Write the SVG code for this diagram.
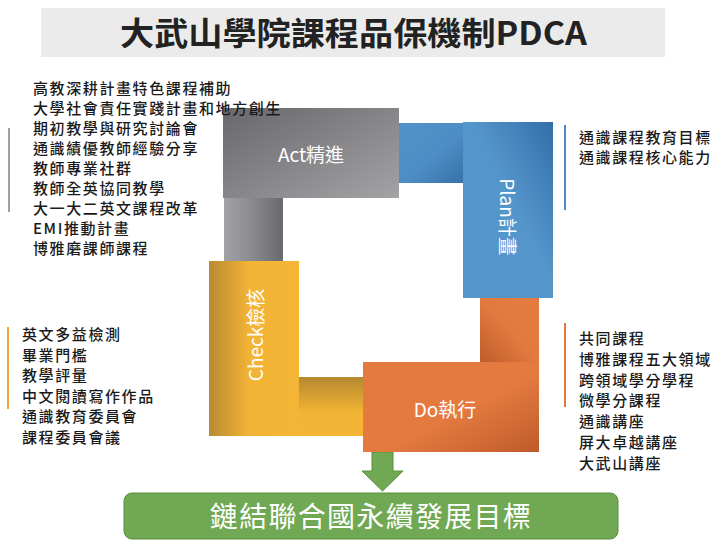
<svg xmlns="http://www.w3.org/2000/svg" width="714" height="540" viewBox="0 0 714 540">
  <style>
    .t { font-family: "Noto Sans CJK TC", "Noto Sans", sans-serif; }
    .list { font-family: "Noto Sans CJK TC", sans-serif; font-size: 15px; font-weight: 500; fill: #1a1a1a; letter-spacing: 1.6px; }
    .lbl { font-family: "Noto Sans CJK TC", "Noto Sans", sans-serif; font-size: 19px; fill: #ffffff; text-anchor: middle; dominant-baseline: central; }
  </style>
  <defs>
    <linearGradient id="gAct" x1="0" y1="0" x2="1" y2="1">
      <stop offset="0" stop-color="#68686c"/>
      <stop offset="1" stop-color="#a3a3a6"/>
    </linearGradient>
    <linearGradient id="gGrayC" x1="0" y1="0" x2="1" y2="0">
      <stop offset="0" stop-color="#a2a2a5"/>
      <stop offset="0.4" stop-color="#8f8f93"/>
      <stop offset="1" stop-color="#69696d"/>
    </linearGradient>
    <linearGradient id="gBlueC" x1="0" y1="0" x2="1" y2="1">
      <stop offset="0" stop-color="#5193c9"/>
      <stop offset="0.55" stop-color="#4d8dc5"/>
      <stop offset="1" stop-color="#3670a8"/>
    </linearGradient>
    <linearGradient id="gPlan" x1="1" y1="0" x2="0" y2="1">
      <stop offset="0" stop-color="#336fab"/>
      <stop offset="0.45" stop-color="#5495ca"/>
      <stop offset="1" stop-color="#5596ca"/>
    </linearGradient>
    <linearGradient id="gOrangeC" x1="0" y1="1" x2="1" y2="0">
      <stop offset="0" stop-color="#c05c2a"/>
      <stop offset="0.5" stop-color="#e27a40"/>
      <stop offset="1" stop-color="#e57b41"/>
    </linearGradient>
    <linearGradient id="gDo" x1="0" y1="0" x2="1" y2="1">
      <stop offset="0" stop-color="#e57a40"/>
      <stop offset="0.55" stop-color="#e47a40"/>
      <stop offset="1" stop-color="#bf5b29"/>
    </linearGradient>
    <linearGradient id="gCheck" x1="0" y1="0" x2="1" y2="0">
      <stop offset="0" stop-color="#b88b32"/>
      <stop offset="0.45" stop-color="#f3b335"/>
      <stop offset="1" stop-color="#f4b436"/>
    </linearGradient>
    <linearGradient id="gYellowC" x1="0" y1="0" x2="0" y2="1">
      <stop offset="0" stop-color="#b5892f"/>
      <stop offset="0.6" stop-color="#f3b335"/>
      <stop offset="1" stop-color="#f4b436"/>
    </linearGradient>
  </defs>

  <rect width="714" height="540" fill="#ffffff"/>

  <g id="title">
    <rect x="41" y="8" width="624" height="49" fill="#ebebeb"/>
    <text class="t" x="120" y="45" font-size="32" font-weight="bold" fill="#222222" textLength="467" lengthAdjust="spacingAndGlyphs">大武山學院課程品保機制PDCA</text>
  </g>

  <g id="connectors">
    <rect x="224" y="196" width="59" height="66" fill="url(#gGrayC)"/>
    <rect x="398" y="123" width="66" height="60" fill="url(#gBlueC)"/>
    <rect x="480" y="297" width="59" height="66" fill="url(#gOrangeC)"/>
    <rect x="298" y="377" width="66" height="59" fill="url(#gYellowC)"/>
    <path d="M372,452 H393 V471 H403 L382.5,491 L362,471 H372 Z" fill="#70a853" stroke="#5b8f3e" stroke-width="1"/>
  </g>

  <g id="act">
    <rect x="223" y="108" width="176" height="90" fill="url(#gAct)"/>
    <text class="lbl" x="311" y="153">Act精進</text>
  </g>

  <g id="plan">
    <rect x="463" y="122" width="90" height="176" fill="url(#gPlan)"/>
    <text class="lbl" x="508" y="217" transform="rotate(90 508 217)">Plan計畫</text>
  </g>

  <g id="check">
    <rect x="209" y="261" width="90" height="175" fill="url(#gCheck)"/>
    <text class="lbl" x="254" y="335" transform="rotate(-90 254 335)">Check檢核</text>
  </g>

  <g id="do">
    <rect x="363" y="362" width="176" height="90" fill="url(#gDo)"/>
    <text class="lbl" x="445" y="408">Do執行</text>
  </g>

  <g id="goal">
    <rect x="124" y="493" width="494" height="46" rx="8" ry="8" fill="#70a853" stroke="#5b8f3e" stroke-width="1"/>
    <text class="t" x="371" y="527" font-size="28" fill="#ffffff" text-anchor="middle" letter-spacing="1.3">鏈結聯合國永續發展目標</text>
  </g>

  <g id="act-list">
    <rect x="8" y="128" width="2" height="84" fill="#a0a0a0"/>
    <text class="list" x="33" y="94">高教深耕計畫特色課程補助</text>
    <text class="list" x="33" y="114">大學社會責任實踐計畫和地方創生</text>
    <text class="list" x="33" y="134">期初教學與研究討論會</text>
    <text class="list" x="33" y="154">通識績優教師經驗分享</text>
    <text class="list" x="33" y="174">教師專業社群</text>
    <text class="list" x="33" y="194">教師全英協同教學</text>
    <text class="list" x="33" y="214">大一大二英文課程改革</text>
    <text class="list" x="33" y="234">EMI推動計畫</text>
    <text class="list" x="33" y="254">博雅磨課師課程</text>
  </g>

  <g id="plan-list">
    <rect x="564" y="125" width="2" height="85" fill="#4a8bc5"/>
    <text class="list" x="579" y="143">通識課程教育目標</text>
    <text class="list" x="579" y="163">通識課程核心能力</text>
  </g>

  <g id="check-list">
    <rect x="7" y="327" width="2" height="82" fill="#f0a830"/>
    <text class="list" x="22" y="340">英文多益檢測</text>
    <text class="list" x="22" y="360.6">畢業門檻</text>
    <text class="list" x="22" y="381.2">教學評量</text>
    <text class="list" x="22" y="401.8">中文閱讀寫作作品</text>
    <text class="list" x="22" y="422.4">通識教育委員會</text>
    <text class="list" x="22" y="443">課程委員會議</text>
  </g>

  <g id="do-list">
    <rect x="564" y="323" width="2" height="84" fill="#e4793f"/>
    <text class="list" x="579" y="344">共同課程</text>
    <text class="list" x="579" y="364.8">博雅課程五大領域</text>
    <text class="list" x="579" y="385.6">跨領域學分學程</text>
    <text class="list" x="579" y="406.4">微學分課程</text>
    <text class="list" x="579" y="427.2">通識講座</text>
    <text class="list" x="579" y="448">屏大卓越講座</text>
    <text class="list" x="579" y="469">大武山講座</text>
  </g>
</svg>
